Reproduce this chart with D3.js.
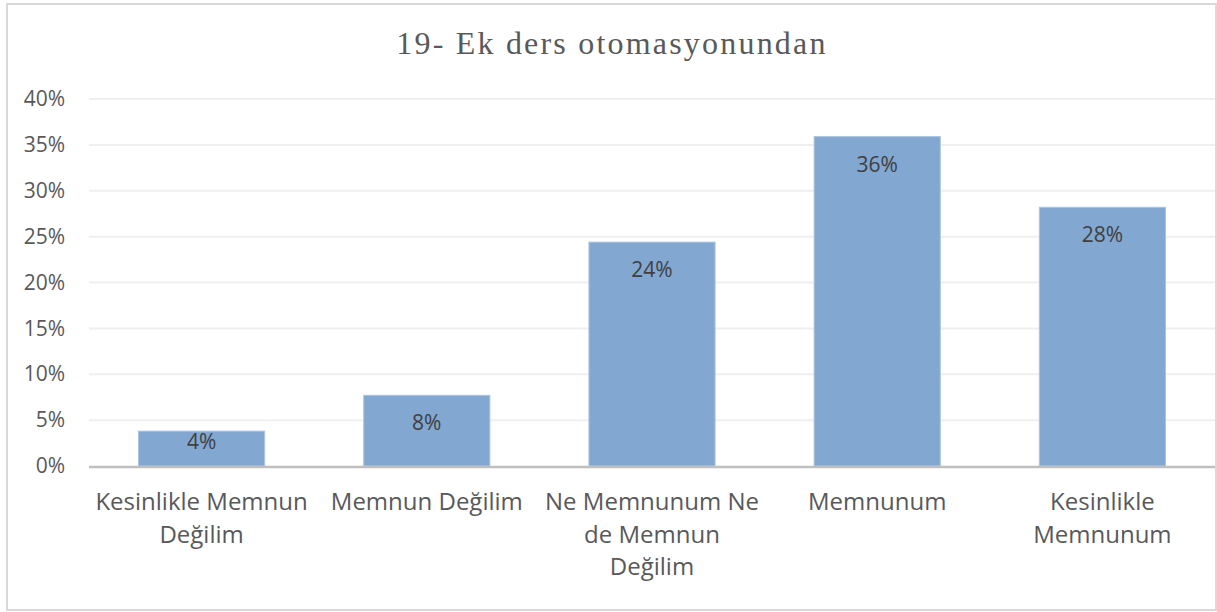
<!DOCTYPE html>
<html><head><meta charset="utf-8">
<script src="https://cdn.jsdelivr.net/npm/d3@7"></script>
<style>body{margin:0;background:#fff}</style>
</head><body>
<svg id="c" width="1217" height="612"></svg>
<script>
const categories = [["Kesinlikle Memnun","Değilim"],["Memnun Değilim"],["Ne Memnunum Ne","de Memnun","Değilim"],["Memnunum"],["Kesinlikle","Memnunum"]];
const values = [3.8, 7.7, 24.4, 35.9, 28.2];
const labels = ["4%","8%","24%","36%","28%"];
const yTicks = [0,5,10,15,20,25,30,35,40];
const title = "19- Ek ders otomasyonundan";

const svg = d3.select("#c");
svg.append("rect").attr("x",7).attr("y",4).attr("width",1209).attr("height",606)
  .attr("fill","#fff").attr("stroke","#d9d9d9").attr("stroke-width",2);

const x = d3.scaleBand().domain(d3.range(values.length)).range([89,1215]).paddingInner(0.44).paddingOuter(0.22);
const y = d3.scaleLinear().domain([0,40]).range([466,99]);

svg.append("text").attr("x",612).attr("y",54).attr("text-anchor","middle")
  .attr("font-family","Liberation Serif, DejaVu Serif, serif").attr("font-size",32)
  .attr("letter-spacing",2.2).attr("fill","#595959").text(title);

const g = svg.append("g");
g.selectAll("line.grid").data(yTicks.slice(1)).join("line").attr("class","grid")
  .attr("x1",89).attr("x2",1215).attr("y1",d=>y(d)).attr("y2",d=>y(d))
  .attr("stroke","#efefef").attr("stroke-width",2);

const yAxis = d3.axisLeft(y).tickValues(yTicks).tickFormat(d=>d+"%").tickSize(0).tickPadding(24);
const ya = svg.append("g").attr("transform","translate(89,0)").call(yAxis);
ya.select(".domain").remove();
ya.selectAll("text").attr("font-family","Open Sans, sans-serif").attr("font-size",21).attr("fill","#595959");

g.selectAll("rect.bar").data(values).join("rect").attr("class","bar")
  .attr("x",(d,i)=>x(i)).attr("width",x.bandwidth())
  .attr("y",d=>y(d)).attr("height",d=>y(0)-y(d))
  .attr("fill","#82a7d0").attr("stroke","#a9c3e0").attr("stroke-width",1);

g.selectAll("text.lbl").data(values).join("text").attr("class","lbl")
  .attr("x",(d,i)=>x(i)+x.bandwidth()/2)
  .attr("y",d=>{const h=y(0)-y(d); return (h<50? y(d)+10 : y(d)+27)+8;})
  .attr("text-anchor","middle").attr("font-family","Open Sans, sans-serif").attr("font-size",21)
  .attr("fill","#404040").text((d,i)=>labels[i]);

svg.append("line").attr("x1",89).attr("x2",1215).attr("y1",y(0)+1).attr("y2",y(0)+1)
  .attr("stroke","#bfbfbf").attr("stroke-width",2.5);

const xl = svg.append("g");
categories.forEach((lines,i)=>{
  const t = xl.append("text").attr("text-anchor","middle").attr("font-family","Open Sans, sans-serif")
    .attr("font-size",24).attr("fill","#595959");
  lines.forEach((s,j)=>{
    t.append("tspan").attr("x",x(i)+x.bandwidth()/2).attr("y",510+j*32.5).text(s);
  });
});
</script>
</body></html>
